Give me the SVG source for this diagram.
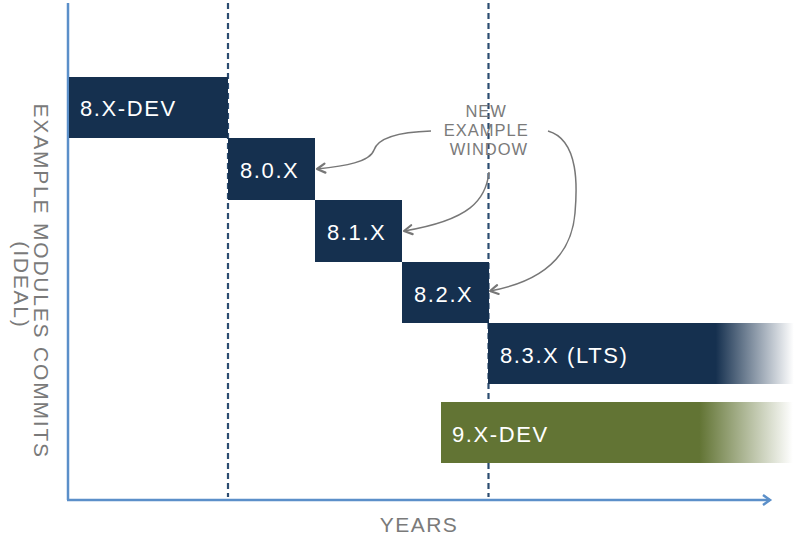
<svg xmlns="http://www.w3.org/2000/svg" width="800" height="542" viewBox="0 0 800 542">
<style>
.box{fill:#15304f}
.lbl{font-family:"Liberation Sans",Arial,sans-serif;font-size:22px;letter-spacing:1.6px;fill:#ffffff}
.gray{font-family:"Liberation Sans",Arial,sans-serif;fill:#7a7a7a}
.axis{stroke:#5b8fc9;stroke-width:2.5;fill:none}
.dash{stroke:#2c4c70;stroke-width:2.2;stroke-dasharray:6 4;fill:none}
.conn{stroke:#777777;stroke-width:1.5;fill:none}
</style>
<defs>
<linearGradient id="fadeNavy" x1="488" y1="0" x2="800" y2="0" gradientUnits="userSpaceOnUse">
<stop offset="0" stop-color="#15304f" stop-opacity="1"/>
<stop offset="0.73" stop-color="#15304f" stop-opacity="1"/>
<stop offset="0.98" stop-color="#15304f" stop-opacity="0"/>
</linearGradient>
<linearGradient id="fadeGreen" x1="441" y1="0" x2="800" y2="0" gradientUnits="userSpaceOnUse">
<stop offset="0" stop-color="#627434" stop-opacity="1"/>
<stop offset="0.72" stop-color="#627434" stop-opacity="1"/>
<stop offset="0.98" stop-color="#627434" stop-opacity="0"/>
</linearGradient>
<marker id="axHead" markerWidth="14" markerHeight="14" refX="10" refY="7" orient="auto" markerUnits="userSpaceOnUse">
<polyline points="3,2 10,7 3,12" fill="none" stroke="#5b8fc9" stroke-width="2.5"/>
</marker>
<marker id="grayHead" markerWidth="16" markerHeight="16" refX="12" refY="8" orient="auto" markerUnits="userSpaceOnUse">
<polyline points="4,3.5 12,8 4,12.5" fill="none" stroke="#777777" stroke-width="2.2" stroke-linejoin="round" stroke-linecap="round"/>
</marker>
</defs>

<g id="axes">
<line class="axis" x1="68" y1="3" x2="68" y2="500"/>
<line class="axis" x1="67" y1="500" x2="770" y2="500" marker-end="url(#axHead)"/>
</g>

<g id="guides">
<line class="dash" x1="228" y1="3" x2="228" y2="497"/>
<line class="dash" x1="488.5" y1="3" x2="488.5" y2="497"/>
</g>

<g id="node-8x-dev">
<rect class="box" x="69" y="77" width="159" height="61"/>
<text class="lbl" x="80" y="116">8.X-DEV</text>
</g>
<g id="node-80x">
<rect class="box" x="228" y="138" width="87" height="62"/>
<text class="lbl" x="240" y="178">8.0.X</text>
</g>
<g id="node-81x">
<rect class="box" x="315" y="200" width="87" height="62"/>
<text class="lbl" x="327" y="240">8.1.X</text>
</g>
<g id="node-82x">
<rect class="box" x="402" y="262" width="87" height="61"/>
<text class="lbl" x="414" y="302">8.2.X</text>
</g>
<g id="node-83x">
<rect x="488" y="323" width="312" height="61" fill="url(#fadeNavy)"/>
<text class="lbl" x="500" y="363">8.3.X (LTS)</text>
</g>
<g id="node-9x-dev">
<rect x="441" y="402" width="359" height="61" fill="url(#fadeGreen)"/>
<text class="lbl" x="452" y="442">9.X-DEV</text>
</g>

<g id="callout">
<text class="gray" font-size="16.5" letter-spacing="1" text-anchor="middle">
<tspan x="489" y="117">NEW</tspan>
<tspan x="489" y="136">EXAMPLE</tspan>
<tspan x="489" y="155">WINDOW</tspan>
</text>
</g>

<g id="connectors">
<path class="conn" d="M431,131 C400,132 378,138 374,150 C370,162 345,166 317,169" marker-end="url(#grayHead)"/>
<path class="conn" d="M489,172 C486,200 470,220 404,231" marker-end="url(#grayHead)"/>
<path class="conn" d="M548,131 C580,140 577,190 575,213 C572,250 550,280 490,291" marker-end="url(#grayHead)"/>
</g>

<g id="axis-labels">
<text class="gray" font-size="21" letter-spacing="1.5" x="419" y="532" text-anchor="middle">YEARS</text>
<text class="gray" font-size="21" letter-spacing="1.8" text-anchor="middle" transform="translate(34,285) rotate(90)">
<tspan x="0" y="0">EXAMPLE MODULES COMMITS</tspan>
<tspan x="0" y="20">(IDEAL)</tspan>
</text>
</g>
</svg>
